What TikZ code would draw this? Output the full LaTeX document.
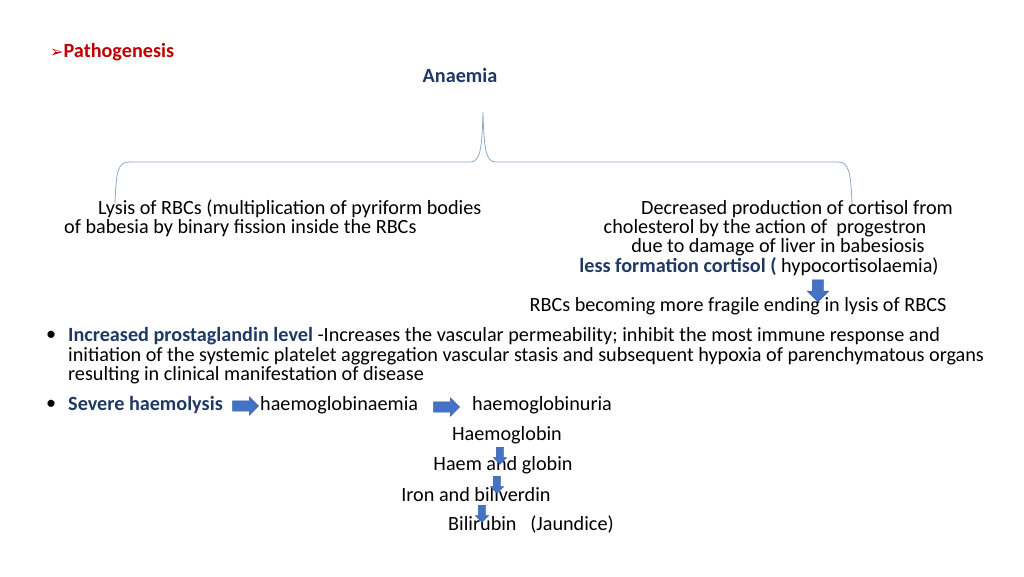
\documentclass[tikz,border=0pt]{standalone}
\usepackage{fontspec}
\setmainfont{Carlito}
\newfontfamily\symf{DejaVu Sans}
\usetikzlibrary{shapes.arrows}
\definecolor{dblue}{HTML}{1F3864}
\definecolor{ablue}{HTML}{4472C4}
\definecolor{bcol}{HTML}{8FA8D0}
\definecolor{dred}{HTML}{C00000}
\tikzset{
 t/.style={anchor=west,inner sep=0pt,font=\fontsize{20.2}{22}\selectfont},
 tc/.style={t,anchor=center},
 hl/.style={text=dblue,font=\fontsize{20.2}{22}\selectfont\bfseries},
 rarr/.style={single arrow,draw=ablue!80!black,fill=ablue,minimum height=26pt,inner sep=5pt,single arrow head extend=4pt,shape border rotate=0},
 darr/.style={rarr,shape border rotate=270},
 sdarr/.style={darr,minimum height=17pt,inner sep=3.5pt,single arrow head extend=3pt},
}
\begin{document}
\begin{tikzpicture}[x=1pt,y=-1pt]
\useasboundingbox (0,0) rectangle (1024,576);
\node[t] (pt) at (50,52) {\textcolor{dred}{\symf\fontsize{16}{16}\selectfont ➢}\textcolor{dred}{\bfseries Pathogenesis}};
\node[tc,hl] (an) at (460,75) {Anaemia};
\draw[bcol,line width=0.8pt] (115,205) .. controls (116,170) and (118,162) .. (130,162) -- (470,162) .. controls (480,162) and (482,150) .. (483,112) .. controls (484,150) and (486,162) .. (496,162) -- (838,162) .. controls (848,162) and (851,170) .. (852,205);
\node[t] (l1) at (98,209) {Lysis of RBCs (multiplication of pyriform bodies};
\node[t] (l2) at (64,228) {of babesia by binary fission inside the RBCs};
\node[tc] (r1) at (797,209) {Decreased production of cortisol from};
\node[tc] (r2) at (765,228) {cholesterol by the action of\ \ progestron};
\node[tc] (r3) at (778,247) {due to damage of liver in babesiosis};
\node[tc] (r4) at (759,267) {\textcolor{dblue}{\bfseries less formation cortisol (} hypocortisolaemia)};
\node[darr,minimum height=22pt,inner sep=5.5pt,single arrow head extend=5pt] (a0) at (818,288) {};
\node[tc] (r5) at (738,306) {RBCs becoming more fragile ending in lysis of RBCS};
\node[t] (b1) at (46,336) {\textbullet};
\node[t] (p1) at (68,336) {\textcolor{dblue}{\bfseries Increased prostaglandin level} -Increases the vascular permeability; inhibit the most immune response and};
\node[t] (p2) at (68,356) {initiation of the systemic platelet aggregation vascular stasis and subsequent hypoxia of parenchymatous organs};
\node[t] (p3) at (68,375) {resulting in clinical manifestation of disease};
\node[t] (b2) at (46,405) {\textbullet};
\node[t] (s1) at (68,405) {\textcolor{dblue}{\bfseries Severe haemolysis}};
\node[rarr] (ar1) at (243,406) {};
\node[t] (s2) at (260,405) {haemoglobinaemia};
\node[rarr] (ar2) at (444,407) {};
\node[t] (s3) at (472,405) {haemoglobinuria};
\node[tc] (h1) at (507,435) {Haemoglobin};
\node[tc] (h2) at (503,465) {Haem and globin};
\node[tc] (h3) at (476,495) {Iron and biliverdin};
\node[tc] (h4) at (531,525) {Bilirubin\ \ \ (Jaundice)};
\node[sdarr] (d1) at (500,454) {};
\node[sdarr] (d2) at (497,483) {};
\node[sdarr] (d3) at (482,512) {};
\end{tikzpicture}
\end{document}
